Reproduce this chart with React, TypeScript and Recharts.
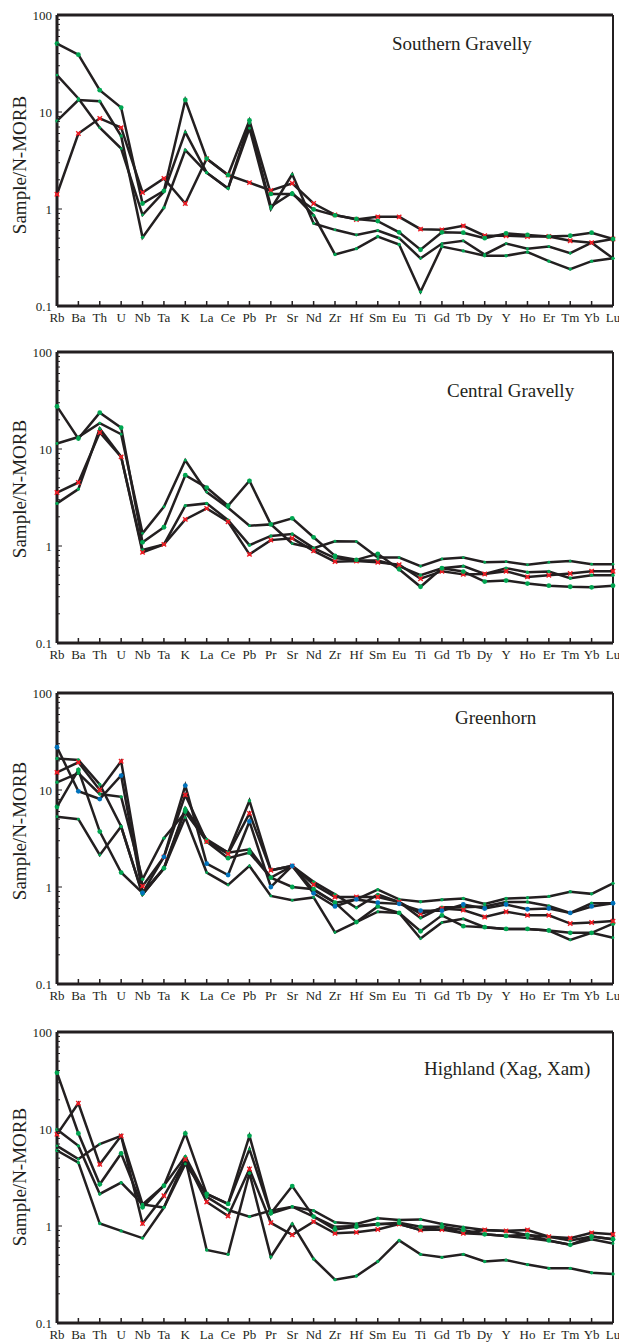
import React from 'react';
import { LineChart, Line, XAxis, YAxis, ReferenceLine } from 'recharts';

const elements = ['Rb', 'Ba', 'Th', 'U', 'Nb', 'Ta', 'K', 'La', 'Ce', 'Pb', 'Pr', 'Sr', 'Nd', 'Zr', 'Hf', 'Sm', 'Eu', 'Ti', 'Gd', 'Tb', 'Dy', 'Y', 'Ho', 'Er', 'Tm', 'Yb', 'Lu'];

// Southern Gravelly
const sgA = [50.8, 39, 16.8, 11.1, 1.14, 1.54, 13.3, 3.3, 2.24, 8.2, 1.43, 1.43, 0.99, 0.86, 0.79, 0.75, 0.575, 0.38, 0.575, 0.57, 0.5, 0.56, 0.54, 0.52, 0.53, 0.57, 0.49];
const sgB = [24, 13.8, 6.9, 4.2, 0.87, 1.5, 6.2, 2.37, 1.63, 6.8, 1.0, 2.28, 0.71, 0.61, 0.54, 0.6, 0.5, 0.31, 0.44, 0.47, 0.34, 0.44, 0.39, 0.41, 0.35, 0.45, 0.31];
const sgC = [8.1, 13.3, 12.9, 5.65, 0.51, 1.03, 4.05, 2.37, 1.63, 7.7, 1.06, 1.47, 0.86, 0.34, 0.39, 0.52, 0.43, 0.14, 0.41, 0.37, 0.33, 0.33, 0.36, 0.29, 0.24, 0.29, 0.31];
const sgD = [1.42, 6.0, 8.6, 6.9, 1.48, 2.07, 1.14, 3.3, 2.24, 1.87, 1.55, 1.84, 1.14, 0.87, 0.78, 0.83, 0.83, 0.62, 0.61, 0.67, 0.53, 0.53, 0.52, 0.52, 0.47, 0.45, 0.49];

// Central Gravelly
const cgE = [27.5, 12.8, 23.7, 16.6, 1.09, 1.56, 5.37, 4.0, 2.6, 4.7, 1.67, 1.93, 1.23, 0.79, 0.72, 0.83, 0.575, 0.38, 0.59, 0.545, 0.43, 0.44, 0.41, 0.39, 0.38, 0.375, 0.39];
const cgF = [11.4, 13.3, 18.5, 14.2, 1.35, 2.54, 7.66, 3.6, 2.48, 1.62, 1.67, 1.06, 0.95, 1.12, 1.11, 0.76, 0.76, 0.62, 0.735, 0.76, 0.68, 0.69, 0.64, 0.68, 0.7, 0.65, 0.65];
const cgG = [3.56, 4.52, 14.8, 8.3, 0.86, 1.04, 1.88, 2.44, 1.78, 0.82, 1.15, 1.2, 0.89, 0.69, 0.7, 0.68, 0.64, 0.46, 0.55, 0.51, 0.515, 0.55, 0.48, 0.5, 0.52, 0.55, 0.55];
const cgH = [2.75, 3.86, 16.2, 8.3, 0.91, 1.04, 2.6, 2.75, 1.85, 1.02, 1.27, 1.33, 0.95, 0.75, 0.71, 0.71, 0.62, 0.5, 0.59, 0.62, 0.515, 0.59, 0.536, 0.545, 0.465, 0.5, 0.5];

// Greenhorn
const gh1 = [27.6, 9.7, 8.07, 14.1, 0.87, 2.04, 11.1, 1.74, 1.33, 4.74, 1.0, 1.65, 0.86, 0.63, 0.745, 0.69, 0.67, 0.57, 0.57, 0.66, 0.6, 0.66, 0.59, 0.6, 0.54, 0.63, 0.68];
const gh2 = [15.2, 19.3, 10, 19.8, 1.02, 2.04, 8.9, 2.94, 2.2, 5.74, 1.49, 1.65, 1.06, 0.79, 0.79, 0.79, 0.7, 0.53, 0.6, 0.58, 0.49, 0.556, 0.51, 0.51, 0.42, 0.43, 0.445];
const gh3 = [21.1, 20.4, 11.4, 4.2, 0.84, 1.56, 6.5, 3.1, 2.26, 2.45, 1.25, 1.65, 1.13, 0.84, 0.61, 0.84, 0.7, 0.48, 0.62, 0.62, 0.63, 0.7, 0.7, 0.636, 0.54, 0.68, 0.68];
const gh4 = [12.0, 14.9, 9.1, 8.5, 1.2, 3.19, 5.9, 3.0, 2.26, 7.76, 1.49, 1.65, 0.93, 0.69, 0.745, 0.94, 0.745, 0.705, 0.74, 0.76, 0.67, 0.76, 0.775, 0.8, 0.895, 0.85, 1.09];
const gh5 = [6.7, 16.1, 3.73, 1.41, 0.87, 1.56, 6.2, 2.94, 1.98, 2.26, 1.25, 1.0, 0.95, 0.69, 0.435, 0.63, 0.54, 0.35, 0.51, 0.395, 0.385, 0.37, 0.37, 0.356, 0.337, 0.337, 0.42];
const gh6 = [5.3, 5.0, 2.14, 4.2, 0.84, 1.56, 5.2, 1.41, 1.05, 1.65, 0.81, 0.73, 0.78, 0.34, 0.435, 0.556, 0.54, 0.294, 0.43, 0.47, 0.385, 0.37, 0.37, 0.356, 0.285, 0.337, 0.3];

// Highland (Xag, Xam)
const hl1 = [38.1, 9.0, 2.69, 5.6, 1.56, 2.6, 9.0, 2.14, 1.69, 8.5, 1.35, 2.58, 1.25, 0.92, 0.98, 1.04, 1.08, 0.98, 0.98, 0.91, 0.82, 0.79, 0.81, 0.71, 0.64, 0.78, 0.73];
const hl2 = [8.8, 18.4, 4.32, 8.5, 1.06, 2.05, 4.87, 1.77, 1.27, 3.87, 1.08, 0.81, 1.11, 0.84, 0.86, 0.92, 1.05, 0.91, 0.92, 0.84, 0.91, 0.89, 0.91, 0.776, 0.75, 0.85, 0.82];
const hl3 = [9.9, 6.7, 2.14, 2.8, 1.67, 2.6, 5.2, 2.0, 1.46, 1.25, 1.44, 1.58, 1.44, 1.09, 1.05, 1.2, 1.15, 1.17, 1.05, 0.97, 0.91, 0.89, 0.81, 0.776, 0.71, 0.78, 0.73];
const hl4 = [6.7, 4.9, 7.0, 8.5, 1.67, 1.55, 4.36, 2.14, 1.69, 6.2, 1.35, 1.58, 1.25, 0.98, 1.0, 1.05, 1.05, 0.91, 0.98, 0.84, 0.82, 0.79, 0.75, 0.706, 0.64, 0.73, 0.66];
const hl5 = [6.0, 4.5, 1.06, 0.89, 0.75, 1.55, 4.87, 0.566, 0.51, 3.5, 0.48, 1.05, 0.457, 0.28, 0.305, 0.43, 0.71, 0.51, 0.475, 0.51, 0.43, 0.445, 0.4, 0.366, 0.366, 0.33, 0.32];

const yTicks = [0.1, 0.2, 0.3, 0.4, 0.5, 0.6, 0.7, 0.8, 0.9, 1, 2, 3, 4, 5, 6, 7, 8, 9, 10, 20, 30, 40, 50, 60, 70, 80, 90, 100];
const yMajor = [0.1, 1, 10, 100];

const GREEN = '#00a651';
const RED = '#ed1c24';
const BLUE = '#0072bc';
const INK = '#231f20';
const FONT = '"Liberation Serif", "Times New Roman", serif';

type Kind = 'big' | 'small' | 'x' | 'red' | 'blue';
type Series = { values: number[]; kind: Kind };

function makeDot(kind: Kind, tag: string) {
  return (p: any) => {
    const { cx, cy, index } = p;
    const k = `${tag}-${index}`;
    if (cx == null || cy == null) return <g key={k} />;
    if (kind === 'red') {
      return (
        <g key={k}>
          <circle cx={cx} cy={cy} r={1.6} fill={RED} />
          <path d={`M${cx - 2.2},${cy - 2.2}L${cx + 2.2},${cy + 2.2}M${cx - 2.2},${cy + 2.2}L${cx + 2.2},${cy - 2.2}`} stroke={RED} strokeWidth={1.4} />
        </g>
      );
    }
    const r = kind === 'big' ? 2.4 : kind === 'blue' ? 2.4 : kind === 'small' ? 1.7 : 1.4;
    return <circle key={k} cx={cx} cy={cy} r={r} fill={kind === 'blue' ? BLUE : GREEN} />;
  };
}

const XTick = (p: any) => {
  const { x, y, payload } = p;
  return (
    <g>
      <line x1={x} x2={x} y1={y} y2={y - 5} stroke={INK} strokeWidth={1.5} />
      <text x={x} y={y + 16} textAnchor="middle" fontFamily={FONT} fontSize={13} fill={INK}>
        {payload.value}
      </text>
    </g>
  );
};

const YTick = (p: any) => {
  const { x, y, payload } = p;
  const major = yMajor.includes(payload.value);
  return (
    <g>
      <line x1={x} x2={x + (major ? 5 : 3)} y1={y} y2={y} stroke={INK} strokeWidth={1} />
      {major && (
        <text x={x - 5} y={y + 4.5} textAnchor="end" fontFamily={FONT} fontSize={13} fill={INK}>
          {payload.value}
        </text>
      )}
    </g>
  );
};

const YLabel = (p: any) => {
  const vy = p.viewBox && p.viewBox.y != null ? p.viewBox.y : 12;
  return (
    <text
      transform={`translate(25.5, ${vy + p.offsetY}) rotate(-90)`}
      textAnchor="middle"
      fontFamily={FONT}
      fontSize={19}
      fill={INK}
    >
      Sample/N-MORB
    </text>
  );
};

type PanelProps = {
  top: number;
  title: string;
  titleX: number;
  titleDy: number;
  labelDy: number;
  series: Series[];
  tag: string;
};

function Panel({ top, title, titleX, titleDy, labelDy, series, tag }: PanelProps) {
  const data = elements.map((el, i) => {
    const row: any = { el };
    series.forEach((s, j) => {
      row['s' + j] = s.values[i];
    });
    return row;
  });

  return (
    <div style={{ position: 'absolute', left: 0, top, width: 619, height: 325 }}>
      <LineChart width={619} height={325} data={data} margin={{ top: 12, right: 6, left: 0, bottom: 0 }}>
        <XAxis
          dataKey="el"
          scale="point"
          padding={{ left: 0, right: 0 }}
          interval={0}
          height={22}
          tickSize={0}
          tickMargin={0}
          tickLine={false}
          axisLine={{ stroke: INK, strokeWidth: 3 }}
          tick={<XTick />}
        />
        <YAxis
          type="number"
          scale="log"
          domain={[0.1, 100]}
          ticks={yTicks}
          interval={0}
          allowDataOverflow
          width={57}
          tickSize={0}
          tickMargin={0}
          tickLine={false}
          axisLine={{ stroke: INK, strokeWidth: 3 }}
          tick={<YTick />}
          label={<YLabel offsetY={labelDy} />}
        />
        <ReferenceLine y={100} stroke={INK} strokeWidth={3} />
        <ReferenceLine x="Lu" stroke={INK} strokeWidth={2} />
        {series.map((s, j) => (
          <Line
            key={j}
            dataKey={'s' + j}
            stroke={INK}
            strokeWidth={2.5}
            dot={makeDot(s.kind, `${tag}${j}`)}
            activeDot={false}
            isAnimationActive={false}
          />
        ))}
      </LineChart>
      <svg style={{ position: 'absolute', left: 0, top: 0, pointerEvents: 'none' }} width={619} height={325}>
        <text x={titleX} y={12 + titleDy} fontFamily={FONT} fontSize={19} fill={INK}>
          {title}
        </text>
      </svg>
    </div>
  );
}

export default function App() {
  return (
    <div style={{ position: 'absolute', left: 0, top: 0, width: 619, height: 1343, overflow: 'hidden', background: '#fff' }}>
      <Panel
        tag="sg"
        top={3}
        title="Southern Gravelly"
        titleX={392}
        titleDy={35}
        labelDy={150}
        series={[
          { values: sgB, kind: 'x' },
          { values: sgC, kind: 'small' },
          { values: sgD, kind: 'red' },
          { values: sgA, kind: 'big' },
        ]}
      />
      <Panel
        tag="cg"
        top={340}
        title="Central Gravelly"
        titleX={447}
        titleDy={45}
        labelDy={137}
        series={[
          { values: cgF, kind: 'x' },
          { values: cgH, kind: 'small' },
          { values: cgG, kind: 'red' },
          { values: cgE, kind: 'big' },
        ]}
      />
      <Panel
        tag="gh"
        top={681}
        title="Greenhorn"
        titleX={455}
        titleDy={31}
        labelDy={138}
        series={[
          { values: gh6, kind: 'x' },
          { values: gh4, kind: 'small' },
          { values: gh3, kind: 'small' },
          { values: gh5, kind: 'big' },
          { values: gh2, kind: 'red' },
          { values: gh1, kind: 'blue' },
        ]}
      />
      <Panel
        tag="hl"
        top={1020}
        title="Highland (Xag, Xam)"
        titleX={424}
        titleDy={43}
        labelDy={145}
        series={[
          { values: hl5, kind: 'small' },
          { values: hl4, kind: 'x' },
          { values: hl3, kind: 'small' },
          { values: hl2, kind: 'red' },
          { values: hl1, kind: 'big' },
        ]}
      />
    </div>
  );
}
